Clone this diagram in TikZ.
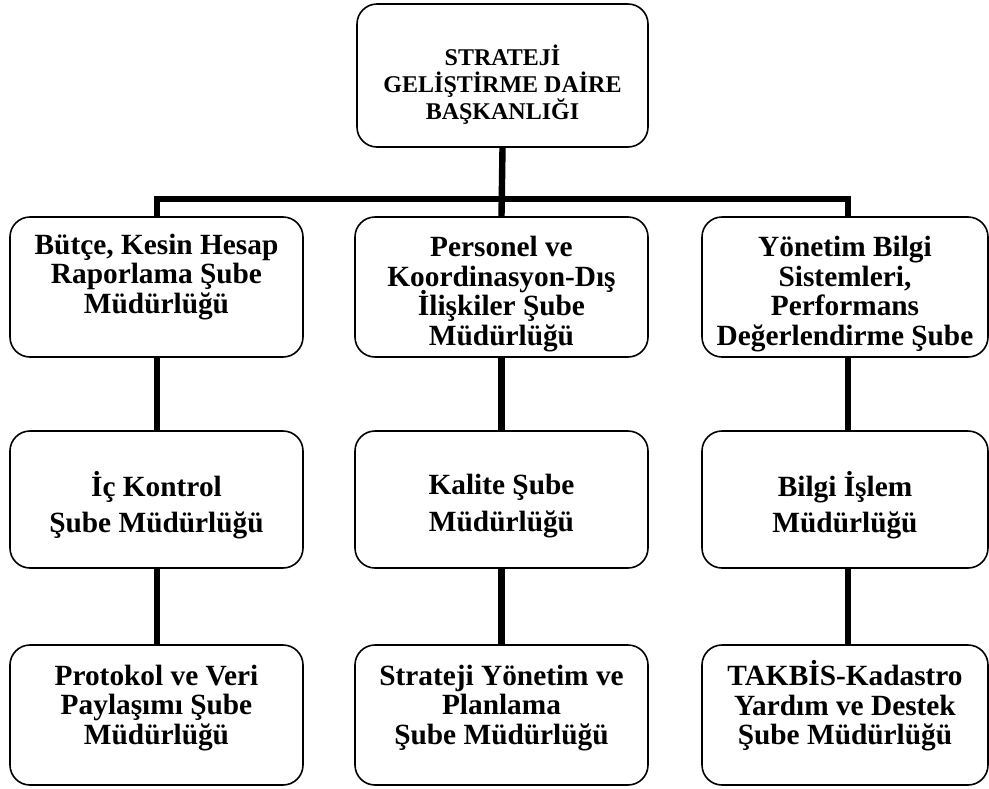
\documentclass[tikz,border=0pt]{standalone}
\usepackage{fontspec}
\setmainfont{Liberation Serif}

\tikzset{
  kutu/.style={draw, line width=1.2pt, rounded corners=15pt, fill=white, inner sep=0pt},
  baglanti/.style={line width=4.8pt, line join=miter},
  yazi/.style={align=flush center, inner sep=0pt, text width=215pt},
  buyuk/.style={font={\bfseries\fontsize{22}{22.2}\selectfont\lineskiplimit=-30pt}},
  seyrek/.style={font={\bfseries\fontsize{22}{27.5}\selectfont\lineskiplimit=-30pt}},
  ustyazi/.style={font={\bfseries\fontsize{18}{20.3}\selectfont\lineskiplimit=-30pt}}
}

\begin{document}
\begin{tikzpicture}[x=0.75pt,y=0.75pt,yscale=-1,xscale=1]
\useasboundingbox (0,0) rectangle (989,789);

%Shape: Rounded Rect (top)
\node[kutu, minimum width=218.25pt, minimum height=107.25pt] (baskan) at (502.5,75.5) {};
%Shape: Rounded Rect (row 1)
\node[kutu, minimum width=219.75pt, minimum height=105pt] (butce) at (156.5,287) {};
\node[kutu, minimum width=219.75pt, minimum height=105pt] (personel) at (501.5,287) {};
\node[kutu, minimum width=214.5pt, minimum height=105pt] (yonetim) at (845,287) {};
%Shape: Rounded Rect (row 2)
\node[kutu, minimum width=219.75pt, minimum height=102.75pt] (ickontrol) at (156.5,499.5) {};
\node[kutu, minimum width=219.75pt, minimum height=102.75pt] (kalite) at (501.5,499.5) {};
\node[kutu, minimum width=214.5pt, minimum height=102.75pt] (bilgi) at (845,499.5) {};
%Shape: Rounded Rect (row 3)
\node[kutu, minimum width=219.75pt, minimum height=105pt] (protokol) at (156.5,715) {};
\node[kutu, minimum width=219.75pt, minimum height=105pt] (strateji) at (501.5,715) {};
\node[kutu, minimum width=214.5pt, minimum height=105pt] (takbis) at (845,715) {};

%Straight Lines
\coordinate (hatsol) at (157,199);
\coordinate (hatsag) at (848,199);
\draw[baglanti] (butce.north -| hatsol) -- (hatsol) -- (hatsag) -- (yonetim.north -| hatsag);
\draw[baglanti] (baskan.south) -- (personel.north);
\draw[baglanti] (butce.south -| hatsol) -- (ickontrol.north -| hatsol);
\draw[baglanti] (ickontrol.south -| hatsol) -- (protokol.north -| hatsol);
\draw[baglanti] (personel.south) -- (kalite.north);
\draw[baglanti] (kalite.south) -- (strateji.north);
\draw[baglanti] (yonetim.south -| hatsag) -- (bilgi.north -| hatsag);
\draw[baglanti] (bilgi.south -| hatsag) -- (takbis.north -| hatsag);

%Text
\node[yazi, ustyazi] (baskanT) at (502.5,85) {STRATEJİ\\GELİŞTİRME DAİRE\\BAŞKANLIĞI};

\node[yazi, buyuk] (butceT) at (156.5,277) {Bütçe, Kesin Hesap\\Raporlama Şube\\Müdürlüğü};
% text runs past the box bottom, cut off there
\begin{scope}
  \clip (personel.north west) rectangle ([yshift=5pt]personel.south east);
  \node[yazi, buyuk] (personelT) at (501.5,294) {Personel ve\\Koordinasyon-Dış\\İlişkiler Şube\\Müdürlüğü};
\end{scope}
\begin{scope}
  \clip (yonetim.north west) rectangle ([yshift=5pt]yonetim.south east);
  \node[yazi, buyuk] (yonetimT) at (845,294) {Yönetim Bilgi\\Sistemleri,\\Performans\\Değerlendirme Şube};
\end{scope}

\node[yazi, seyrek] (ickontrolT) at (156.5,505) {İç Kontrol\\Şube Müdürlüğü};
\node[yazi, seyrek] (kaliteT) at (501.5,506) {Kalite Şube\\Müdürlüğü};
\node[yazi, seyrek] (bilgiT) at (845,505) {Bilgi İşlem\\Müdürlüğü};

\node[yazi, buyuk] (protokolT) at (156.5,708) {Protokol ve Veri\\Paylaşımı Şube\\Müdürlüğü};
\node[yazi, buyuk] (stratejiT) at (501.5,708) {Strateji Yönetim ve\\Planlama\\Şube Müdürlüğü};
\node[yazi, buyuk] (takbisT) at (845,706) {TAKBİS-Kadastro\\Yardım ve Destek\\Şube Müdürlüğü};

\end{tikzpicture}
\end{document}
